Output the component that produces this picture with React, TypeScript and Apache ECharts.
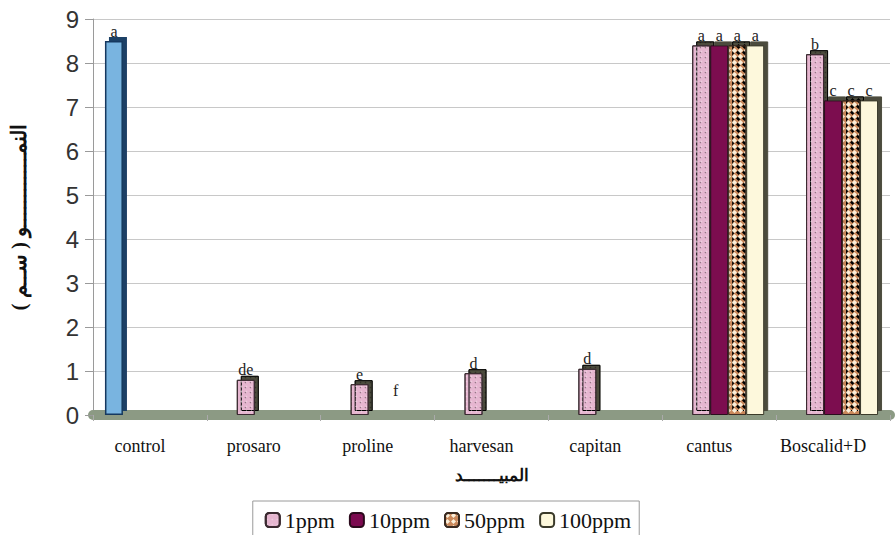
import React, { useEffect, useRef } from "react";
import * as echarts from "echarts";

// Treatments along the x axis
const categories = ["control", "prosaro", "proline", "harvesan", "capitan", "cantus", "Boscalid+D"];

// Growth values (cm) per concentration
const controlValues = [8.5, null, null, null, null, null, null];
const ppm1Values = [null, 0.8, 0.7, 0.95, 1.05, 8.4, 8.2];
const ppm10Values = [null, 0, 0, 0, 0, 8.4, 7.15];
const ppm50Values = [null, 0, 0, 0, 0, 8.4, 7.15];
const ppm100Values = [null, 0, 0, 0, 0, 8.4, 7.15];

// Significance letters above the bars
const controlLetters = ["a", "", "", "", "", "", ""];
const ppm1Letters = ["", "de", "e", "d", "d", "a", "b"];
const ppm10Letters = ["", "", "", "", "", "a", "c"];
const ppm50Letters = ["", "", "f", "", "", "a", "c"];
const ppm100Letters = ["", "", "", "", "", "a", "c"];

const yTicks = [0, 1, 2, 3, 4, 5, 6, 7, 8, 9];
const legendNames = ["1ppm", "10ppm", "50ppm", "100ppm"];

const serif = "'Liberation Serif', 'DejaVu Serif', serif";
const sans = "'Liberation Sans', Arial, sans-serif";

function makeData(values: (number | null)[], letters: string[], raised: number[] = []) {
  return values.map((v, i) => ({
    value: v,
    label: {
      show: !!letters[i],
      formatter: letters[i],
      offset: raised.includes(i) ? [0, -14] : [0, 0],
    },
  }));
}

export default function App() {
  const ref = useRef<HTMLDivElement>(null);

  useEffect(() => {
    if (!ref.current) return;
    const chart = echarts.init(ref.current, undefined, { renderer: "svg" });

    const barLabel = {
      position: "top" as const,
      distance: 2,
      fontFamily: serif,
      fontSize: 16,
      color: "#222",
    };
    const depth = {
      shadowColor: "#4b4b3c",
      shadowOffsetX: 4,
      shadowOffsetY: -4,
      shadowBlur: 0,
    };

    chart.setOption({
      animation: false,
      backgroundColor: "#ffffff",
      grid: { left: 89, right: 6, top: 19, bottom: 120 },
      legend: {
        data: legendNames,
        bottom: -8,
        left: "center",
        itemWidth: 14,
        itemHeight: 14,
        itemGap: 14,
        padding: [8, 8, 12, 12],
        borderColor: "#9a9a9a",
        borderWidth: 1,
        textStyle: { fontFamily: serif, fontSize: 22, color: "#111" },
      },
      xAxis: {
        type: "category",
        data: categories,
        name: "المبيـــــــد",
        nameLocation: "middle",
        nameGap: 52,
        nameTextStyle: { fontFamily: serif, fontSize: 17, fontWeight: "bold", color: "#111" },
        axisLine: { lineStyle: { color: "#8c9a84", width: 10 } },
        axisTick: { show: true, length: 6, lineStyle: { color: "#aaa" } },
        axisLabel: {
          fontFamily: serif,
          fontSize: 18,
          color: "#111",
          margin: 22,
          padding: [0, 20, 0, 0],
        },
      },
      yAxis: {
        type: "value",
        min: yTicks[0],
        max: yTicks[yTicks.length - 1],
        interval: 1,
        name: "النمــــــــــــو ( ســم )",
        nameLocation: "middle",
        nameRotate: 90,
        nameGap: 64,
        nameTextStyle: { fontFamily: serif, fontSize: 21, fontWeight: "bold", color: "#111" },
        axisLine: { show: true, lineStyle: { color: "#9a9a9a" } },
        axisTick: { show: true, length: 8, lineStyle: { color: "#9a9a9a" } },
        axisLabel: { fontFamily: sans, fontSize: 24, color: "#333", margin: 14 },
        splitLine: { lineStyle: { color: "#c8c8c8" } },
      },
      series: [
        {
          name: "control",
          type: "bar",
          barGap: "0%",
          barCategoryGap: "21%",
          data: makeData(controlValues, controlLetters),
          itemStyle: { color: "#79b4e0", borderColor: "#17395e", borderWidth: 1.5, ...depth, shadowColor: "#1d3f66" },
          label: barLabel,
        },
        {
          name: "1ppm",
          type: "bar",
          data: makeData(ppm1Values, ppm1Letters),
          itemStyle: {
            color: "#e6b6d0",
            borderColor: "#3a2a30",
            borderWidth: 1,
            ...depth,
            decal: {
              symbol: "circle",
              symbolSize: 0.5,
              color: "rgba(255,255,255,0.35)",
              dashArrayX: [3, 2],
              dashArrayY: [3, 2],
            },
          },
          label: barLabel,
        },
        {
          name: "10ppm",
          type: "bar",
          data: makeData(ppm10Values, ppm10Letters),
          itemStyle: { color: "#7c0a50", borderColor: "#2b0a1c", borderWidth: 1, ...depth },
          label: barLabel,
        },
        {
          name: "50ppm",
          type: "bar",
          data: makeData(ppm50Values, ppm50Letters, [2]),
          itemStyle: {
            color: "#c9875a",
            borderColor: "#3a2a20",
            borderWidth: 1,
            ...depth,
            decal: {
              symbol: "diamond",
              symbolSize: 1,
              color: "#fbf0da",
              dashArrayX: [5, 1],
              dashArrayY: [5, 1],
            },
          },
          label: barLabel,
        },
        {
          name: "100ppm",
          type: "bar",
          data: makeData(ppm100Values, ppm100Letters),
          itemStyle: { color: "#fdf8dc", borderColor: "#3a3a2a", borderWidth: 1, ...depth },
          label: barLabel,
        },
      ],
    });

    return () => chart.dispose();
  }, []);

  return (
    <div
      ref={ref}
      style={{ position: "fixed", left: 0, top: 0, width: 896, height: 535, background: "#fff" }}
    />
  );
}
